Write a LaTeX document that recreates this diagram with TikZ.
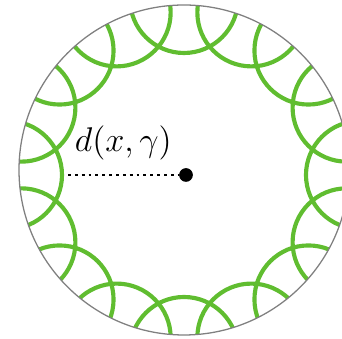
\documentclass[tikz,border=0pt]{standalone}
\usepackage{amsmath,amssymb}
\usepackage{tikz}
\usetikzlibrary{calc}

\definecolor{ballgreen}{RGB}{96,189,48}

\begin{document}
\begin{tikzpicture}[scale=0.0123,
    ball/.style={draw=ballgreen,line width=1.45pt},
    rim/.style={draw=gray,line width=0.45pt},
    dist/.style={line width=1pt,dash pattern=on 1pt off 1.4pt}]
                \useasboundingbox (-184,-169) rectangle (158,170);
                \clip (-184,-169) rectangle (158,170);
                \coordinate (o) at (0,-5);
                \begin{scope}
                    \clip (0,0) circle [radius=165];
                    \foreach \a in {0,22.5,...,337.5}
                        \draw [ball] ($(o)+(\a:176)$) circle [radius=54];
                \end{scope}
                \draw [rim] (0,0) circle [radius=165];
                \node (x) [circle,fill,inner sep=0pt,minimum size=4.8pt] at (2,-5) {};
                \coordinate (g) at (-116,-5);
                \draw [dist] (g) -- (x) node [midway,above,yshift=1.5pt,font=\fontsize{11.8}{14}\selectfont] (lab) {$d(x,\gamma)$};
            \end{tikzpicture}
\end{document}
